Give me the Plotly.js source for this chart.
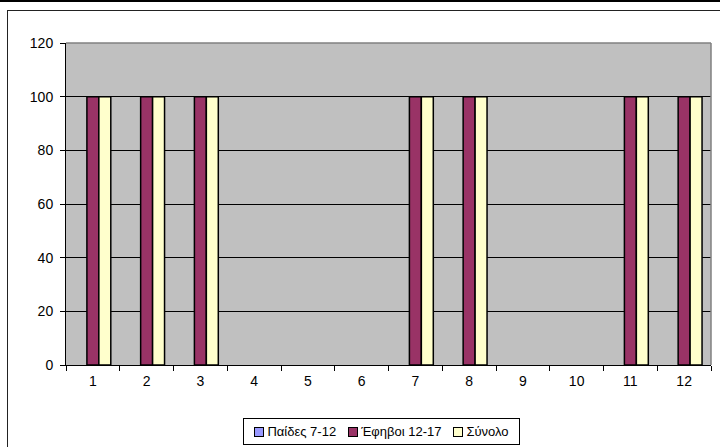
<!DOCTYPE html>
<html>
<head>
<meta charset="utf-8">
<script src="https://cdn.plot.ly/plotly-3.0.1.min.js"></script>
<style>
html,body{margin:0;padding:0;background:#fff;}
#wrap{position:relative;width:720px;height:447px;overflow:hidden;}
#chart{position:absolute;left:0;top:0;width:720px;height:447px;}
.ln{position:absolute;background:#000;pointer-events:none;}
#legend{position:absolute;left:243px;top:418px;width:275px;height:25px;border:1px solid #000;background:#fff;
  display:flex;align-items:center;justify-content:center;font-family:Arial,"Liberation Sans",sans-serif;font-size:13px;color:#000;white-space:nowrap;}
#legend .it{display:flex;align-items:center;margin:0 6px;}
#legend .sw{width:8px;height:8px;border:1px solid #000;margin-right:3px;}
</style>
</head>
<body>
<div id="wrap">
<div id="chart"></div>
<div class="ln" style="left:0;top:0;width:720px;height:2px;"></div>
<div class="ln" style="left:7px;top:10px;width:713px;height:1px;background:#222;"></div>
<div class="ln" style="left:7px;top:10px;width:1px;height:437px;background:#222;"></div>
<div id="legend"></div>
</div>
<script>
var categories = ['1','2','3','4','5','6','7','8','9','10','11','12'];
var seriesNames = ['Παίδες 7-12', 'Έφηβοι 12-17', 'Σύνολο'];
var paides = [null,null,null,null,null,null,null,null,null,null,null,null];
var efivoi = [100,100,100,null,null,null,100,100,null,null,100,100];
var synolo = [100,100,100,null,null,null,100,100,null,null,100,100];
var colors = ['#9999FF', '#993366', '#FFFFCC'];

var font = {family: 'Arial, "Liberation Sans", sans-serif', size: 14, color: '#000'};
var vals = [paides, efivoi, synolo];
var traces = vals.map(function(v, i){
  return {
    type: 'bar', x: categories, y: v, name: seriesNames[i],
    marker: {color: colors[i], line: {color: '#000', width: 1.5}},
    hoverinfo: 'skip'
  };
});

var layout = {
  width: 720, height: 447,
  margin: {l: 66, r: 9, t: 43, b: 82},
  paper_bgcolor: 'rgba(0,0,0,0)',
  plot_bgcolor: '#C0C0C0',
  barmode: 'group', bargap: 0.333, bargroupgap: 0,
  font: font,
  showlegend: false,
  xaxis: {
    type: 'category', tickson: 'boundaries', ticks: 'outside', ticklen: 5,
    tickcolor: '#000', showline: true, linecolor: '#000', linewidth: 1,
    showgrid: false, tickfont: font, fixedrange: true, ticklabelstandoff: 3, automargin: false
  },
  yaxis: {
    range: [0, 120], dtick: 20, ticks: 'outside', ticklen: 5, tickcolor: '#000',
    showline: true, linecolor: '#000', linewidth: 1,
    showgrid: true, gridcolor: '#000', gridwidth: 1, zeroline: false,
    tickfont: font, fixedrange: true, ticklabelstandoff: 4, automargin: false
  },
  shapes: [
    {type: 'line', xref: 'paper', yref: 'paper', x0: 0, x1: 1, y0: 1, y1: 1, line: {color: '#808080', width: 1.5}},
    {type: 'line', xref: 'paper', yref: 'paper', x0: 1, x1: 1, y0: 0, y1: 1, line: {color: '#808080', width: 1.5}}
  ]
};
Plotly.newPlot('chart', traces, layout, {staticPlot: true, displayModeBar: false});

var lg = document.getElementById('legend');
seriesNames.forEach(function(n, i){
  var it = document.createElement('div'); it.className = 'it';
  var sw = document.createElement('div'); sw.className = 'sw'; sw.style.background = colors[i];
  var tx = document.createElement('span'); tx.textContent = n;
  it.appendChild(sw); it.appendChild(tx); lg.appendChild(it);
});
</script>
</body>
</html>
